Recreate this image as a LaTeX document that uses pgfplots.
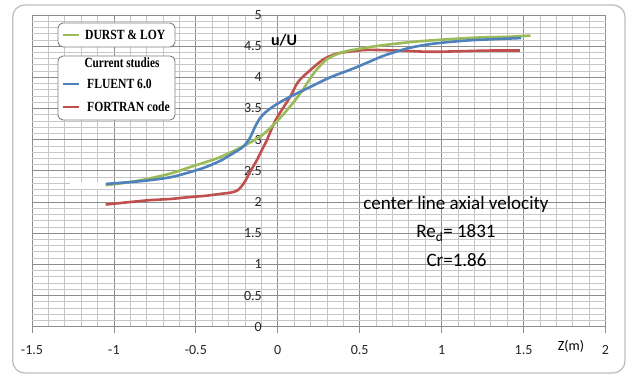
\documentclass[border=0pt]{standalone}
\usepackage{pgfplots}
\pgfplotsset{compat=1.18}
\usepackage{fontspec}
\setmainfont{Carlito}
\newfontfamily\legfont{Liberation Serif}

\definecolor{durst}{HTML}{9BBB59}
\definecolor{fluent}{HTML}{4F81BD}
\definecolor{fortran}{HTML}{C0504D}

\begin{document}
\begin{tikzpicture}[x=1pt,y=1pt]
% canvas and chart frame
\path (0,0) rectangle (628,375);
\draw[rounded corners=12pt, color=black!25, line width=1.3pt, fill=white] (12.7,2) rectangle (625,370);

\begin{axis}[
  at={(32pt,48.3pt)}, anchor=south west,
  scale only axis, width=573.5pt, height=311.7pt,
  xmin=-1.5, xmax=2, ymin=0, ymax=5,
  axis x line=bottom, axis y line=center,
  axis line style={-, draw=none},
  xtick={-1.5,-1,-0.5,0,0.5,1,1.5,2},
  ytick={0,0.5,1,1.5,2,2.5,3,3.5,4,4.5,5},
  minor x tick num=4, minor y tick num=4,
  grid=both,
  major grid style={color=black!45, line width=0.8pt},
  minor grid style={color=black!22, line width=0.8pt},
  minor tick length=0pt,
  tick align=outside, major tick length=6.5pt,
  xtick style={color=black!45, line width=0.8pt},
  ytick style={draw=none},
  hide obscured x ticks=false, hide obscured y ticks=false,
  /pgf/number format/assume math mode=true,
  tick label style={font=\fontsize{14}{14}\selectfont, text=black!85},
  yticklabel style={anchor=east, xshift=-6pt},
  xticklabel style={anchor=north, yshift=-9pt},
  clip=false,
]
% white patch at the left end of the curves
\fill[white] (axis cs:-1.268,2.202) rectangle (axis cs:-1.044,2.319);

% FORTRAN code
\addplot[fortran, line width=2.6pt, smooth, tension=0.5] coordinates {
(-1.05,1.96) (-0.9,2.0) (-0.78,2.03) (-0.65,2.05) (-0.535,2.08) (-0.44,2.10)
(-0.352,2.13) (-0.29,2.15) (-0.25,2.18) (-0.225,2.24) (-0.2,2.33) (-0.17,2.48)
(-0.13,2.66) (-0.1,2.82) (-0.067,2.99) (-0.04,3.16) (-0.01,3.33) (0.03,3.50)
(0.076,3.69) (0.125,3.93) (0.2,4.12) (0.28,4.29) (0.36,4.38) (0.46,4.42)
(0.55,4.44) (0.727,4.43) (0.93,4.41) (1.134,4.42) (1.3,4.43) (1.477,4.43)
};
% DURST & LOY
\addplot[durst, line width=2.6pt, smooth, tension=0.5] coordinates {
(-1.05,2.27) (-0.9,2.32) (-0.78,2.38) (-0.65,2.46) (-0.535,2.56) (-0.44,2.64)
(-0.352,2.72) (-0.23,2.87) (-0.107,3.05) (-0.026,3.24) (0.055,3.47) (0.137,3.74)
(0.218,4.06) (0.26,4.19) (0.30,4.29) (0.35,4.36) (0.42,4.42) (0.503,4.46)
(0.625,4.51) (0.829,4.57) (1.033,4.61) (1.236,4.64) (1.40,4.65) (1.542,4.67)
};
% FLUENT 6.0
\addplot[fluent, line width=2.6pt, smooth, tension=0.5] coordinates {
(-1.05,2.29) (-0.9,2.32) (-0.78,2.35) (-0.65,2.40) (-0.535,2.48) (-0.44,2.56)
(-0.352,2.66) (-0.28,2.77) (-0.21,2.89) (-0.17,3.03) (-0.14,3.20) (-0.11,3.34)
(-0.075,3.44) (-0.035,3.52) (0.0,3.58) (0.076,3.69) (0.178,3.82) (0.32,4.0)
(0.45,4.13) (0.55,4.24) (0.65,4.35) (0.8,4.47) (0.95,4.54) (1.15,4.59)
(1.3,4.61) (1.485,4.63)
};
\end{axis}

% axis titles
\node[font=\fontsize{16}{16}\selectfont\bfseries] at (284,335) {u/U};
\node[font=\fontsize{14}{14}\selectfont] at (571,29) {Z(m)};

% annotation
\node[font=\fontsize{19}{19}\selectfont] at (456,171) {center line axial velocity};
\node[font=\fontsize{19}{19}\selectfont] at (456,142) {Re\textsubscript{d}= 1831};
\node[font=\fontsize{19}{19}\selectfont] at (456.5,115) {Cr=1.86};

% legend boxes
\draw[rounded corners=5pt, color=black!50, line width=0.9pt, fill=white] (58,352) rectangle (175,328);
\draw[durst, line width=2pt] (63,340) -- (79,340);
\node[anchor=west, inner sep=0pt, xscale=0.83, font=\legfont\fontsize{14}{14}\selectfont\bfseries] at (85,340) {DURST \& LOY};

\draw[rounded corners=5pt, color=black!50, line width=0.9pt, fill=white] (58,319) rectangle (175,255);
\node[inner sep=0pt, xscale=0.8, font=\legfont\fontsize{14}{14}\selectfont\bfseries] at (122,312) {Current studies};
\draw[fluent, line width=2pt] (63,291) -- (79,291);
\node[anchor=west, inner sep=0pt, xscale=0.83, font=\legfont\fontsize{14}{14}\selectfont\bfseries] at (87,291) {FLUENT 6.0};
\draw[fortran, line width=2pt] (63,268) -- (79,268);
\node[anchor=west, inner sep=0pt, xscale=0.83, font=\legfont\fontsize{14}{14}\selectfont\bfseries] at (87,268) {FORTRAN code};
\end{tikzpicture}
\end{document}
